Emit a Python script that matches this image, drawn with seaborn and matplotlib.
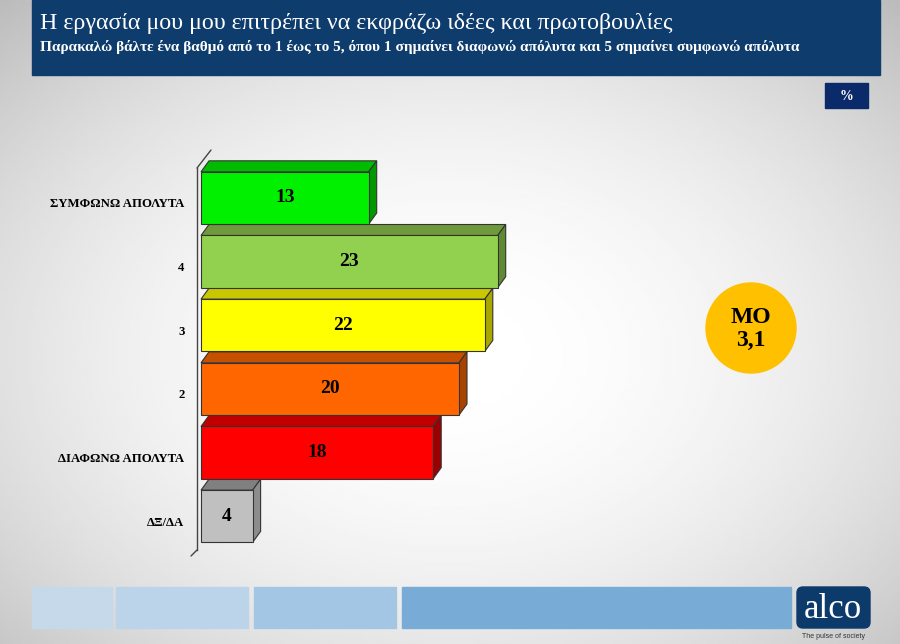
import numpy as np
import pandas as pd
import matplotlib
matplotlib.use('Agg')
import matplotlib.pyplot as plt
import matplotlib.transforms as mtransforms
from matplotlib.patches import Rectangle, Circle, Polygon, FancyBboxPatch
import seaborn as sns

# data
categories = ['ΣΥΜΦΩΝΩ ΑΠΟΛΥΤΑ', '4', '3', '2', 'ΔΙΑΦΩΝΩ ΑΠΟΛΥΤΑ', 'ΔΞ/ΔΑ']
values = [13, 23, 22, 20, 18, 4]
mean_label = 'MO\n3,1'

title = 'Η εργασία μου μου επιτρέπει να εκφράζω ιδέες και πρωτοβουλίες'
subtitle = ('Παρακαλώ βάλτε ένα βαθμό από το 1 έως το 5, όπου 1 σημαίνει '
            'διαφωνώ απόλυτα και 5 σημαίνει συμφωνώ απόλυτα')

# colours (front / top / side)
front_cols = ['#00f000', '#92d050', '#ffff00', '#ff6600', '#ff0000', '#c0c0c0']
top_cols = ['#00bb00', '#6f9a3c', '#c8c800', '#c65000', '#c00000', '#808080']
side_cols = ['#009a00', '#5f8a32', '#a8a800', '#a84400', '#9a0000', '#8c8c8c']

sns.set_style('white')
plt.rcParams['font.family'] = ['Liberation Serif', 'DejaVu Serif']
plt.rcParams['text.color'] = 'black'
plt.rcParams['ytick.labelcolor'] = 'black'

fig = plt.figure(figsize=(9, 6.44), dpi=100)

# background / decoration layer in pixel coordinates
bg = fig.add_axes([0, 0, 1, 1])
bg.set_xlim(0, 900)
bg.set_ylim(644, 0)
bg.axis('off')

xx, yy = np.meshgrid(np.linspace(-1, 1, 300), np.linspace(-1, 1, 220))
shade = 1 - 0.12 * (xx ** 2 + (yy - 0.1) ** 2)
bg.imshow(shade, cmap='gray', vmin=0, vmax=1, extent=(0, 900, 644, 0),
          aspect='auto', zorder=0)

# header
bg.add_patch(Rectangle((32, 0), 848, 75, color='#0e3c6c', zorder=1))
bg.text(40, 23, title, color='white', fontsize=17.3, va='center', ha='left')
bg.text(40, 47, subtitle, color='white', fontsize=11, fontweight='bold',
        va='center', ha='left')

# % box
bg.add_patch(Rectangle((825, 83), 43, 25, color='#0a2a6a', zorder=1))
bg.text(846.5, 96, '%', color='white', fontsize=10, fontweight='bold',
        ha='center', va='center')

# mean circle
bg.add_patch(Circle((751, 328), 45, color='#ffc000', zorder=1))
bg.text(751, 329, mean_label, fontsize=17, fontweight='bold', ha='center',
        va='center', linespacing=1.1)

# footer strip
strip = [(32, 80, '#c5d9ea'), (116, 132, '#bcd4ea'), (254, 142, '#a2c6e4'),
         (402, 389, '#78acd6')]
for x0, w, c in strip:
    bg.add_patch(Rectangle((x0, 587), w, 41, color=c, zorder=1))
bg.add_patch(FancyBboxPatch((797, 587), 73, 41, boxstyle='round,pad=0,rounding_size=6',
                            color='#0c3a6b', zorder=1))
bg.text(833, 609, 'alco', color='white', fontsize=25, ha='center', va='center')
bg.text(833, 636, 'The pulse of society', color='#333333', fontsize=5,
        family=['Liberation Sans', 'DejaVu Sans'], ha='center', va='center')

# main chart
ax = fig.add_axes([197 / 900, (644 - 550) / 644, 600 / 900, 382 / 644])
ax.patch.set_alpha(0)
df = pd.DataFrame({'cat': categories, 'val': values})
sns.barplot(data=df, x='val', y='cat', hue='cat', palette=front_cols,
            saturation=1, orient='h', width=0.82, edgecolor='#333333',
            linewidth=0.8, legend=False, ax=ax, zorder=3)

px_per_unit = 12.9
ax.set_xlim(-4 / px_per_unit, -4 / px_per_unit + 600 / px_per_unit)
ax.set_ylim(5.53, -0.47)

dx = 8 / px_per_unit
dy = 11 / 63.7
for p, tc, sc in zip(ax.patches, top_cols, side_cols):
    x0, y0 = p.get_x(), p.get_y()
    w, h = p.get_width(), p.get_height()
    x1 = x0 + w
    top = Polygon([(x0, y0), (x0 + dx, y0 - dy), (x1 + dx, y0 - dy), (x1, y0)],
                  closed=True, facecolor=tc, edgecolor='#333333', lw=0.8,
                  zorder=2, clip_on=False)
    side = Polygon([(x1, y0), (x1 + dx, y0 - dy), (x1 + dx, y0 + h - dy), (x1, y0 + h)],
                   closed=True, facecolor=sc, edgecolor='#333333', lw=0.8,
                   zorder=2, clip_on=False)
    ax.add_patch(top)
    ax.add_patch(side)

for cont in ax.containers:
    ax.bar_label(cont, label_type='center', fontsize=14, fontweight='bold',
                 color='black')

# axis styling
for s in ['top', 'right', 'bottom']:
    ax.spines[s].set_visible(False)
ax.spines['left'].set_color('#444444')
ax.spines['left'].set_linewidth(1.0)
ax.set_xticks([])
ax.set_xlabel('')
ax.set_ylabel('')
ax.tick_params(axis='y', which='major', length=0, pad=9, labelsize=9.2,
               labelcolor='black')
shift = mtransforms.ScaledTranslation(0, -5 / 100, fig.dpi_scale_trans)
for lbl in ax.get_yticklabels():
    lbl.set_fontweight('bold')
    lbl.set_transform(lbl.get_transform() + shift)
ax.set_yticks([i - 0.41 for i in range(len(categories))], minor=True)
ax.tick_params(axis='y', which='minor', length=4, width=0.8, color='#444444',
               direction='out')

# 3D wall edges
xl = ax.get_xlim()[0]
yt, yb = ax.get_ylim()[1], ax.get_ylim()[0]
ax.plot([xl, xl + 14 / px_per_unit], [yt, yt - 18 / 63.7], color='#444444',
        lw=1.0, clip_on=False)
ax.plot([xl, xl - 6 / px_per_unit], [yb, yb + 6 / 63.7], color='#444444',
        lw=1.0, clip_on=False)

fig.savefig('out.png', dpi=100)
